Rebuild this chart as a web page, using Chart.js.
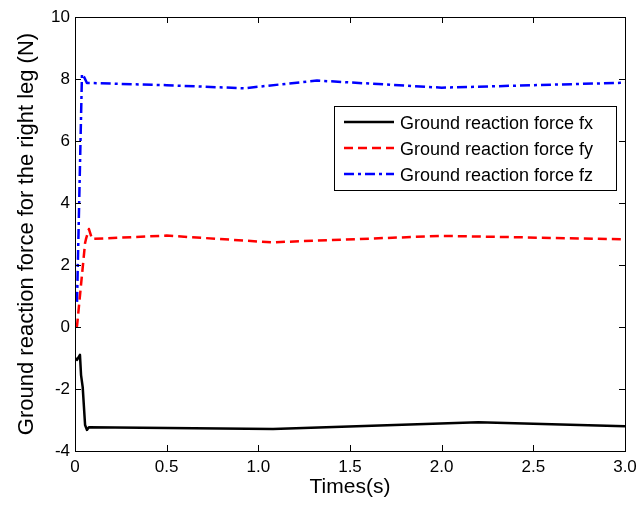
<!DOCTYPE html>
<html>
<head>
<meta charset="utf-8">
<script src="https://cdn.jsdelivr.net/npm/chart.js@4.4.0/dist/chart.umd.min.js"></script>
<style>
  body { margin: 0; background: #fff; }
  #wrap { width: 643px; height: 505px; }
</style>
</head>
<body>
<div id="wrap"><canvas id="myChart" width="643" height="505"></canvas></div>
<script>
// data (time in s, force in N)
const fxTimes = [0.005, 0.011, 0.027, 0.033, 0.042, 0.055, 0.065, 0.076, 1.08, 2.2, 3.0];
const fxValues = [-1.0, -1.06, -0.9, -1.55, -1.94, -3.16, -3.32, -3.23, -3.29, -3.07, -3.2];

const fyTimes = [0.005, 0.011, 0.055, 0.06, 0.076, 0.093, 0.5, 1.07, 2.0, 3.0];
const fyValues = [0.0, 0.03, 2.71, 2.84, 3.16, 2.84, 2.95, 2.73, 2.94, 2.83];

const fzTimes = [0.011, 0.038, 0.05, 0.065, 0.093, 0.5, 0.92, 1.32, 2.0, 3.0];
const fzValues = [0.81, 8.16, 8.06, 7.87, 7.87, 7.8, 7.7, 7.95, 7.72, 7.88];

const seriesNames = ['Ground reaction force fx', 'Ground reaction force fy', 'Ground reaction force fz'];
const xTicks = [0, 0.5, 1, 1.5, 2, 2.5, 3];
const yTicks = [-4, -2, 0, 2, 4, 6, 8, 10];

const FONT = '"Liberation Sans", Arial, Helvetica, sans-serif';

function pts(xs, ys) {
  return xs.map((x, i) => ({ x: x, y: ys[i] }));
}

const styles = [
  { color: '#000000', dash: [] },
  { color: '#ff0000', dash: [9, 5] },
  { color: '#0000ff', dash: [10, 4, 3, 4] }
];

// frame, inward ticks on all 4 sides, legend box inside the axes
const framePlugin = {
  id: 'frame',
  afterDraw(chart) {
    const c = chart.ctx;
    const a = chart.chartArea;
    const xs = chart.scales.x, ys = chart.scales.y;
    c.save();
    c.strokeStyle = '#000';
    c.lineWidth = 1;
    c.setLineDash([]);
    c.strokeRect(Math.round(a.left) + 0.5, Math.round(a.top) + 0.5,
      Math.round(a.right - a.left), Math.round(a.bottom - a.top));
    const tl = 6;
    c.beginPath();
    xTicks.forEach(v => {
      const px = Math.round(xs.getPixelForValue(v)) + 0.5;
      c.moveTo(px, a.bottom); c.lineTo(px, a.bottom - tl);
      c.moveTo(px, a.top); c.lineTo(px, a.top + tl);
    });
    yTicks.forEach(v => {
      const py = Math.round(ys.getPixelForValue(v)) + 0.5;
      c.moveTo(a.left, py); c.lineTo(a.left + tl, py);
      c.moveTo(a.right, py); c.lineTo(a.right - tl, py);
    });
    c.stroke();

    // legend
    const lx = 334.5, ly = 106.5, lw = 282, lh = 84;
    c.fillStyle = '#fff';
    c.fillRect(lx, ly, lw, lh);
    c.strokeRect(lx, ly, lw, lh);
    c.font = '18px ' + FONT;
    c.textBaseline = 'middle';
    chart.data.datasets.forEach((ds, i) => {
      const y = 122 + i * 26;
      c.strokeStyle = ds.borderColor;
      c.lineWidth = 2.5;
      c.setLineDash(ds.borderDash);
      c.beginPath();
      c.moveTo(344, y); c.lineTo(394, y);
      c.stroke();
      c.setLineDash([]);
      c.fillStyle = '#000';
      c.fillText(ds.label, 400, y + 2);
    });
    c.restore();
  }
};

const ctx = document.getElementById('myChart');

new Chart(ctx, {
  type: 'scatter',
  data: {
    datasets: [
      { data: pts(fxTimes, fxValues) },
      { data: pts(fyTimes, fyValues) },
      { data: pts(fzTimes, fzValues) }
    ].map((d, i) => ({
      label: seriesNames[i],
      data: d.data,
      showLine: true,
      borderColor: styles[i].color,
      backgroundColor: styles[i].color,
      borderDash: styles[i].dash,
      borderWidth: 2.5,
      pointRadius: 0,
      tension: 0,
      borderJoinStyle: 'round'
    }))
  },
  options: {
    responsive: false,
    animation: false,
    devicePixelRatio: 1,
    layout: { padding: { left: 0, top: 17, right: 18, bottom: 0 } },
    plugins: {
      legend: { display: false },
      tooltip: { enabled: false }
    },
    scales: {
      x: {
        type: 'linear',
        min: 0,
        max: 3,
        afterBuildTicks: s => { s.ticks = xTicks.map(v => ({ value: v })); },
        afterFit: s => { s.height = 54; },
        grid: { display: false, drawTicks: false },
        border: { display: false },
        ticks: { color: '#000', padding: 6, font: { family: FONT, size: 17 }, maxRotation: 0 },
        title: { display: true, text: 'Times(s)', color: '#000', padding: { top: 0, bottom: 5 }, font: { family: FONT, size: 21 } }
      },
      y: {
        min: -4,
        max: 10,
        afterBuildTicks: s => { s.ticks = yTicks.map(v => ({ value: v })); },
        afterFit: s => { s.width = 75; },
        grid: { display: false, drawTicks: false },
        border: { display: false },
        ticks: { color: '#000', padding: 5, font: { family: FONT, size: 17 } },
        title: { display: true, text: 'Ground reaction force for the right leg (N)', color: '#000', padding: { top: 14, bottom: 0 }, font: { family: FONT, size: 22 } }
      }
    }
  },
  plugins: [framePlugin]
});
</script>
</body>
</html>
